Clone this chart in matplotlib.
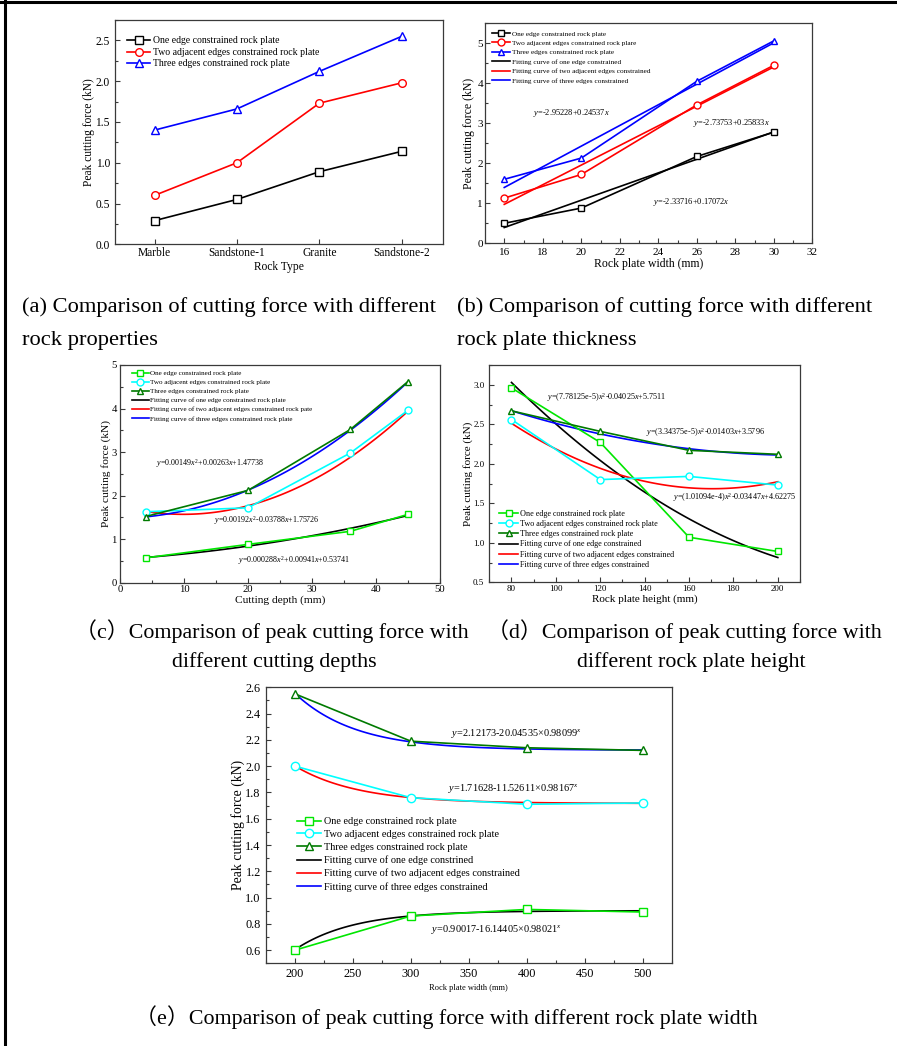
import numpy as np
import matplotlib
matplotlib.use("Agg")
import matplotlib.pyplot as plt
from matplotlib.lines import Line2D
from matplotlib.ticker import MultipleLocator

plt.rcParams['font.family'] = ['Liberation Serif', 'Noto Sans CJK SC']
plt.rcParams['mathtext.fontset'] = 'custom'
plt.rcParams['mathtext.rm'] = 'Liberation Serif'
plt.rcParams['mathtext.it'] = 'Liberation Serif:italic'
plt.rcParams['axes.unicode_minus'] = False

W, H = 897, 1046

# (a) rock properties
rock_types = ["Marble", "Sandstone-1", "Granite", "Sandstone-2"]
a_one = [0.29, 0.55, 0.89, 1.14]
a_two = [0.60, 1.00, 1.73, 1.98]
a_three = [1.40, 1.66, 2.12, 2.55]

# (b) rock plate thickness, linear fits y = p0 + p1*x
b_width = [16, 20, 26, 30]
b_one = [0.50, 0.88, 2.17, 2.78]
b_two = [1.13, 1.72, 3.46, 4.45]
b_three = [1.60, 2.13, 4.05, 5.06]
b_fit_one = [-2.33716, 0.17072]
b_fit_two = [-2.95228, 0.24537]
b_fit_three = [-2.73753, 0.25833]

# (c) cutting depth, quadratic fits
c_depth = [4, 20, 36, 45]
c_one = [0.57, 0.88, 1.18, 1.57]
c_two = [1.63, 1.72, 2.98, 3.96]
c_three = [1.52, 2.12, 3.52, 4.62]
c_fit_one = [0.000288, 0.00941, 0.53741]
c_fit_two = [0.00192, -0.03788, 1.75726]
c_fit_three = [0.00149, 0.00263, 1.47738]

# (d) rock plate height, quadratic fits
d_height = [80, 120, 160, 200]
d_one = [2.96, 2.27, 1.07, 0.89]
d_two = [2.56, 1.80, 1.84, 1.73]
d_three = [2.67, 2.41, 2.17, 2.12]
d_fit_one = [7.78125e-5, -0.04025, 5.7511]
d_fit_two = [1.01094e-4, -0.03447, 4.62275]
d_fit_three = [3.34375e-5, -0.01403, 3.5796]

# (e) rock plate width, exponential fits y = a + b*c**x
e_width = [200, 300, 400, 500]
e_one = [0.60, 0.86, 0.91, 0.89]
e_two = [2.00, 1.76, 1.71, 1.72]
e_three = [2.55, 2.19, 2.14, 2.12]
e_fit_one = [0.90017, -16.14405, 0.98021]
e_fit_two = [1.71628, 11.52611, 0.98167]
e_fit_three = [2.12173, 20.04535, 0.98099]

GREEN = '#00e600'
CYAN = '#00ffff'
DKGREEN = '#007a00'

fig = plt.figure(figsize=(W / 100, H / 100), dpi=100)


def px(x, y):
    return x / W, 1 - y / H


def make_axes(left, top, right, bottom, size, xpad, ypad):
    ax = fig.add_axes([left / W, 1 - bottom / H, (right - left) / W, (bottom - top) / H])
    for s in ax.spines.values():
        s.set_linewidth(0.9)
        s.set_color('#3a3a3a')
    ax.tick_params(which='both', direction='in', top=False, right=False,
                   width=0.8, color='#3a3a3a', labelsize=size)
    ax.tick_params(which='major', length=3.5)
    ax.tick_params(which='minor', length=2)
    ax.tick_params(axis='x', which='both', pad=xpad)
    ax.tick_params(axis='y', which='both', pad=ypad)
    return ax


def data_line(ax, x, y, color, marker, label, ms=5):
    ax.plot(x, y, color=color, marker=marker, ms=ms, mfc='white', mec=color,
            mew=1.0, lw=1.2, label=label, zorder=3)


def legend(ax, x, y, size, spacing, hl=2.4):
    ax.legend(loc='upper left', bbox_to_anchor=px(x, y), bbox_transform=fig.transFigure,
              frameon=False, fontsize=size, borderpad=0, borderaxespad=0,
              handlelength=hl, handletextpad=0.25, labelspacing=spacing)


# ---- (a)
ax = make_axes(115, 20, 443, 244.3, 8.3, 2, 3.6)
pos = np.arange(len(rock_types))
data_line(ax, pos, a_one, 'black', 's', "One edge constrained rock plate", 5.5)
data_line(ax, pos, a_two, 'red', 'o', "Two adjacent edges constrained rock plate", 5.5)
data_line(ax, pos, a_three, 'blue', '^', "Three edges constrained rock plate", 5.5)
ax.set_xticks(pos)
ax.set_xticklabels(rock_types)
ax.set_xlim(-0.48, 3.5)
ax.set_ylim(0, 2.75)
ax.yaxis.set_major_locator(MultipleLocator(0.5))
ax.yaxis.set_minor_locator(MultipleLocator(0.25))
ax.yaxis.set_major_formatter(lambda v, p: f"{v:.1f}")
ax.set_xlabel("Rock Type", fontsize=8.3, labelpad=1.5)
ax.set_ylabel("Peak cutting force (kN)", fontsize=8.3, labelpad=0.5)
legend(ax, 127, 36.4, 7, 0.26)

# ---- (b)
ax = make_axes(485, 23.3, 812.3, 243.3, 8, 3.4, 1.5)
data_line(ax, b_width, b_one, 'black', 's', "One edge constrained rock plate")
data_line(ax, b_width, b_two, 'red', 'o', "Two adjacent edges constrained rock plare")
data_line(ax, b_width, b_three, 'blue', '^', "Three edges constrained rock plate")
xf = np.linspace(b_width[0], b_width[-1], 50)
for p, col, lab in [(b_fit_one, 'black', "Fitting curve of one edge constrained"),
                    (b_fit_two, 'red', "Fitting curve of two adjacent edges constrained"),
                    (b_fit_three, 'blue', "Fitting curve of three edges constrained")]:
    ax.plot(xf, p[0] + p[1] * xf, color=col, lw=1.2, label=lab, zorder=2)
ax.set_xlim(15, 32)
ax.set_ylim(0, 5.5)
ax.xaxis.set_major_locator(MultipleLocator(2))
ax.xaxis.set_minor_locator(MultipleLocator(1))
ax.yaxis.set_major_locator(MultipleLocator(1))
ax.yaxis.set_minor_locator(MultipleLocator(0.5))
ax.set_xlabel("Rock plate width (mm)", fontsize=8.5, labelpad=0.5)
ax.set_ylabel("Peak cutting force (kN)", fontsize=8.5, labelpad=1.5)
legend(ax, 491.7, 30.5, 5.2, 0.47, 2.5)
eq = dict(fontsize=6, ha='center', va='center')
ax.text(19.5, 3.25, r"$y$=-2.95228+0.24537$x$", **eq)
ax.text(27.8, 3.0, r"$y$=-2.73753+0.25833$x$", **eq)
ax.text(25.7, 1.03, r"$y$=-2.33716+0.17072$x$", **eq)

# ---- (c)
ax = make_axes(120, 365, 440, 582.7, 7.7, 2, 2.4)
data_line(ax, c_depth, c_one, GREEN, 's', "One edge constrained rock plate")
data_line(ax, c_depth, c_two, CYAN, 'o', "Two adjacent edges constrained rock plate")
data_line(ax, c_depth, c_three, DKGREEN, '^', "Three edges constrained rock plate")
xf = np.linspace(c_depth[0], c_depth[-1], 100)
for p, col, lab in [(c_fit_one, 'black', "Fitting curve of one edge constrained rock plate"),
                    (c_fit_two, 'red', "Fitting curve of two adjacent edges constrained rock pate"),
                    (c_fit_three, 'blue', "Fitting curve of three edges constrained rock plate")]:
    ax.plot(xf, np.polyval(p, xf), color=col, lw=1.2, label=lab, zorder=2)
ax.set_xlim(0, 50)
ax.set_ylim(0, 5)
ax.xaxis.set_major_locator(MultipleLocator(10))
ax.xaxis.set_minor_locator(MultipleLocator(5))
ax.yaxis.set_major_locator(MultipleLocator(1))
ax.yaxis.set_minor_locator(MultipleLocator(0.5))
ax.set_xlabel("Cutting depth (mm)", fontsize=8.2, labelpad=0.5)
ax.set_ylabel("Peak cutting force (kN)", fontsize=8.2, labelpad=0.5)
legend(ax, 131.7, 370.2, 5.1, 0.44)
eq = dict(fontsize=5.8, ha='center', va='center')
ax.text(14.1, 2.74, r"$y$=0.00149$x^2$+0.00263$x$+1.47738", **eq)
ax.text(22.9, 1.42, r"$y$=0.00192$x^2$-0.03788$x$+1.75726", **eq)
ax.text(27.1, 0.505, r"$y$=0.000288$x^2$+0.00941$x$+0.53741", **eq)

# ---- (d)
ax = make_axes(489.3, 365, 800, 582.3, 6.5, 2.2, 3.6)
data_line(ax, d_height, d_one, GREEN, 's', "One edge constrained rock plate")
data_line(ax, d_height, d_two, CYAN, 'o', "Two adjacent edges constrained rock plate")
data_line(ax, d_height, d_three, DKGREEN, '^', "Three edges constrained rock plate")
xf = np.linspace(d_height[0], d_height[-1], 100)
for p, col, lab in [(d_fit_one, 'black', "Fitting curve of one edge constrained"),
                    (d_fit_two, 'red', "Fitting curve of two adjacent edges constrained"),
                    (d_fit_three, 'blue', "Fitting curve of three edges constrained")]:
    ax.plot(xf, np.polyval(p, xf), color=col, lw=1.2, label=lab, zorder=2)
ax.set_xlim(70, 210)
ax.set_ylim(0.5, 3.25)
ax.xaxis.set_major_locator(MultipleLocator(20))
ax.xaxis.set_minor_locator(MultipleLocator(10))
ax.yaxis.set_major_locator(MultipleLocator(0.5))
ax.yaxis.set_minor_locator(MultipleLocator(0.25))
ax.yaxis.set_major_formatter(lambda v, p: f"{v:.1f}")
ax.set_xlabel("Rock plate height (mm)", fontsize=8, labelpad=0.8)
ax.set_ylabel("Peak cutting force (kN)", fontsize=8, labelpad=0.3)
legend(ax, 499.3, 509.6, 5.9, 0.28, 2.3)
eq = dict(fontsize=5.9, ha='center', va='center')
ax.text(122.9, 2.84, r"$y$=(7.78125e-5)$x^2$-0.04025$x$+5.7511", **eq)
ax.text(167.2, 2.40, r"$y$=(3.34375e-5)$x^2$-0.01403$x$+3.5796", **eq)
ax.text(180.7, 1.57, r"$y$=(1.01094e-4)$x^2$-0.03447$x$+4.62275", **eq)

# ---- (e)
ax = make_axes(266, 687.3, 671.7, 963.3, 8.8, 3.6, 3.8)
data_line(ax, e_width, e_one, GREEN, 's', "One edge constrained rock plate", 6)
data_line(ax, e_width, e_two, CYAN, 'o', "Two adjacent edges constrained rock plate", 6)
data_line(ax, e_width, e_three, DKGREEN, '^', "Three edges constrained rock plate", 6)
xf = np.linspace(e_width[0], e_width[-1], 100)
for p, col, lab in [(e_fit_one, 'black', "Fitting curve of one edge constrined"),
                    (e_fit_two, 'red', "Fitting curve of two adjacent edges constrained"),
                    (e_fit_three, 'blue', "Fitting curve of three edges constrained")]:
    ax.plot(xf, p[0] + p[1] * p[2] ** xf, color=col, lw=1.2, label=lab, zorder=2)
ax.set_xlim(175, 525)
ax.set_ylim(0.5, 2.6)
ax.xaxis.set_major_locator(MultipleLocator(50))
ax.xaxis.set_minor_locator(MultipleLocator(25))
ax.yaxis.set_major_locator(MultipleLocator(0.2))
ax.yaxis.set_minor_locator(MultipleLocator(0.1))
ax.yaxis.set_major_formatter(lambda v, p: f"{v:.1f}")
ax.set_xlabel("Rock plate width (mm)", fontsize=6, labelpad=2.4)
ax.set_ylabel("Peak cutting force (kN)", fontsize=9.9, labelpad=0.5)
legend(ax, 296.7, 817.1, 7.4, 0.35)
eq = dict(fontsize=7.4, ha='center', va='center')
ax.text(391.3, 2.245, r"$y$=2.12173-20.04535×0.98099$^x$", **eq)
ax.text(388.4, 1.832, r"$y$=1.71628-11.52611×0.98167$^x$", **eq)
ax.text(374, 0.759, r"$y$=0.90017-16.14405×0.98021$^x$", **eq)

# ---- captions
cap = dict(fontsize=16.2, va='center')
fig.text(*px(22, 307), "(a) Comparison of cutting force with different", ha='left', **cap)
fig.text(*px(22, 340), "rock properties", ha='left', **cap)
fig.text(*px(457, 307), "(b) Comparison of cutting force with different", ha='left', **cap)
fig.text(*px(457, 340), "rock plate thickness", ha='left', **cap)
cap['fontsize'] = 15.8
fig.text(*px(272, 631), "（c）Comparison of peak cutting force with", ha='center', **cap)
fig.text(*px(274, 662), "different cutting depths", ha='center', **cap)
fig.text(*px(684, 631), "（d）Comparison of peak cutting force with", ha='center', **cap)
fig.text(*px(691, 662), "different rock plate height", ha='center', **cap)
fig.text(*px(446, 1017), "（e）Comparison of peak cutting force with different rock plate width",
         ha='center', **cap)

# page frame
fig.add_artist(Line2D([0, 1], [1 - 2 / H, 1 - 2 / H], transform=fig.transFigure, color='black', lw=2.2))
fig.add_artist(Line2D([5 / W, 5 / W], [0, 1], transform=fig.transFigure, color='black', lw=2.2))

fig.savefig("out.png", dpi=100)
